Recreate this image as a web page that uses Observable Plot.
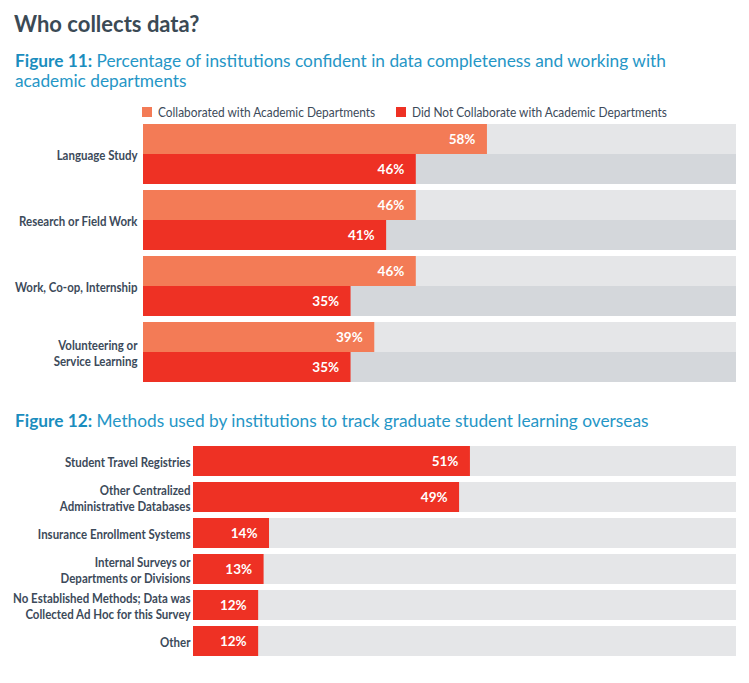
<!DOCTYPE html>
<html>
<head>
<meta charset="utf-8">
<script src="https://cdn.jsdelivr.net/npm/d3@7"></script>
<script src="https://cdn.jsdelivr.net/npm/@observablehq/plot@0.6"></script>
<style>
  html, body { margin: 0; padding: 0; background: #fff; }
  #page { position: relative; width: 749px; height: 683px; overflow: hidden; }
  .abs { position: absolute; }
  #title { left: 14px; top: 11px; font-family: Lato, "Open Sans", sans-serif; font-weight: 700; font-size: 22px; line-height: 26px; color: #3b4a55; white-space: nowrap; }
  .fig { left: 15px; font-family: Lato, "Open Sans", sans-serif; font-size: 17.3px; line-height: 20px; color: #2596c6; white-space: nowrap; }
  .fig b { font-weight: 700; color: #1a8dbe; }
  .legend-item { top: 104px; height: 16px; display: flex; align-items: center; font-family: Lato, sans-serif; font-size: 13.5px; color: #3c4a5a; white-space: nowrap; }
  .legend-item .sw { width: 10px; height: 10px; margin-right: 6px; display: inline-block; flex: none; }
  .legend-item .lt { display: inline-block; transform: scaleX(0.88); transform-origin: left center; }
  svg text { font-family: Lato, sans-serif; }
</style>
</head>
<body>
<div id="page">
  <div id="title" class="abs">Who collects data?</div>
  <div id="fig11" class="abs fig" style="top:51px;"><b>Figure 11:</b> Percentage of institutions confident in data completeness and working with<br>academic departments</div>
  <div id="chart1" class="abs" style="left:0; top:118px;"></div>
  <div id="fig12" class="abs fig" style="top:411px;"><b>Figure 12:</b> Methods used by institutions to track graduate student learning overseas</div>
  <div id="chart2" class="abs" style="left:0; top:440px;"></div>
</div>
<script>
// ---- Figure 11 data ----
const fig11Categories = ["Language Study", "Research or Field Work", "Work, Co-op, Internship", "Volunteering or\nService Learning"];
const fig11Series = ["Collaborated with Academic Departments", "Did Not Collaborate with Academic Departments"];
const fig11Collaborated = [58, 46, 46, 39];
const fig11NotCollaborated = [46, 41, 35, 35];
const fig11Colors = ["#f37b56", "#ee3124"];
const fig11Backgrounds = ["#e5e6e8", "#d4d7db"];

// ---- Figure 12 data ----
const fig12Categories = ["Student Travel Registries", "Other Centralized\nAdministrative Databases", "Insurance Enrollment Systems", "Internal Surveys or\nDepartments or Divisions", "No Established Methods; Data was\nCollected Ad Hoc for this Survey", "Other"];
const fig12Values = [51, 49, 14, 13, 12, 12];
const fig12Color = "#ee3124";
const fig12Background = "#e5e6e8";

const maxPct = 100;
const labelColor = "#3c4a5a";
const legendLefts = [142, 396];

// legend
const page = document.getElementById("page");
fig11Series.forEach((s, i) => {
  const it = document.createElement("div");
  it.className = "abs legend-item";
  it.style.left = legendLefts[i] + "px";
  it.innerHTML = `<span class="sw" style="background:${fig11Colors[i]}"></span><span class="lt">${s}</span>`;
  page.appendChild(it);
});

// condense text horizontally (reference uses a condensed typeface)
function condense(svg, selector, f) {
  svg.querySelectorAll(selector).forEach(t => {
    const tr = t.getAttribute("transform") || "";
    t.setAttribute("transform", tr + ` scale(${f},1)`);
  });
}

// table for fig 11
const rows11 = [];
fig11Categories.forEach((c, i) => {
  rows11.push({category: c, series: fig11Series[0], value: fig11Collaborated[i]});
  rows11.push({category: c, series: fig11Series[1], value: fig11NotCollaborated[i]});
});

const chart1 = Plot.plot({
  width: 749,
  height: 270,
  marginLeft: 143,
  marginRight: 13,
  marginTop: 5,
  marginBottom: 4,
  x: {domain: [0, maxPct], axis: null},
  y: {domain: fig11Series, padding: 0, axis: null},
  fy: {domain: fig11Categories, paddingInner: 0.09, paddingOuter: 0, label: null},
  color: {domain: fig11Series, range: fig11Colors},
  marks: [
    Plot.barX(rows11.filter(d => d.series === fig11Series[0]), {fy: "category", y: "series", x1: 0, x2: maxPct, fill: fig11Backgrounds[0], inset: 0}),
    Plot.barX(rows11.filter(d => d.series === fig11Series[1]), {fy: "category", y: "series", x1: 0, x2: maxPct, fill: fig11Backgrounds[1], inset: 0}),
    Plot.barX(rows11, {fy: "category", y: "series", x: "value", fill: "series", inset: 0}),
    Plot.text(rows11, {fy: "category", y: "series", x: "value", text: d => d.value + "%", textAnchor: "end", dx: -12, fill: "white", fontWeight: "bold", fontSize: 13.5, ariaLabel: "value"}),
    Plot.axisFy({anchor: "left", tickSize: 0, tickPadding: 6, fontSize: 14, fontWeight: "bold", color: labelColor, lineHeight: 1.15, label: null})
  ]
});
condense(chart1, 'g[aria-label="fy-axis tick label"] text', 0.82);
condense(chart1, 'g[aria-label="value"] text', 0.82);
document.getElementById("chart1").appendChild(chart1);

// fig 12
const rows12 = fig12Categories.map((c, i) => ({category: c, value: fig12Values[i]}));
const chart2 = Plot.plot({
  width: 749,
  height: 222,
  marginLeft: 193,
  marginRight: 13,
  marginTop: 5,
  marginBottom: 5,
  x: {domain: [0, maxPct], axis: null},
  y: {domain: fig12Categories, paddingInner: 0.176, paddingOuter: 0, label: null},
  marks: [
    Plot.barX(rows12, {y: "category", x1: 0, x2: maxPct, fill: fig12Background, inset: 0}),
    Plot.barX(rows12, {y: "category", x: "value", fill: fig12Color, inset: 0}),
    Plot.text(rows12, {y: "category", x: "value", text: d => d.value + "%", textAnchor: "end", dx: -12, fill: "white", fontWeight: "bold", fontSize: 13.5, ariaLabel: "value"}),
    Plot.axisY({anchor: "left", tickSize: 0, tickPadding: 3, fontSize: 14, fontWeight: "bold", color: labelColor, lineHeight: 1.15, label: null})
  ]
});
condense(chart2, 'g[aria-label="y-axis tick label"] text', 0.82);
condense(chart2, 'g[aria-label="value"] text', 0.82);
document.getElementById("chart2").appendChild(chart2);
</script>
</body>
</html>
